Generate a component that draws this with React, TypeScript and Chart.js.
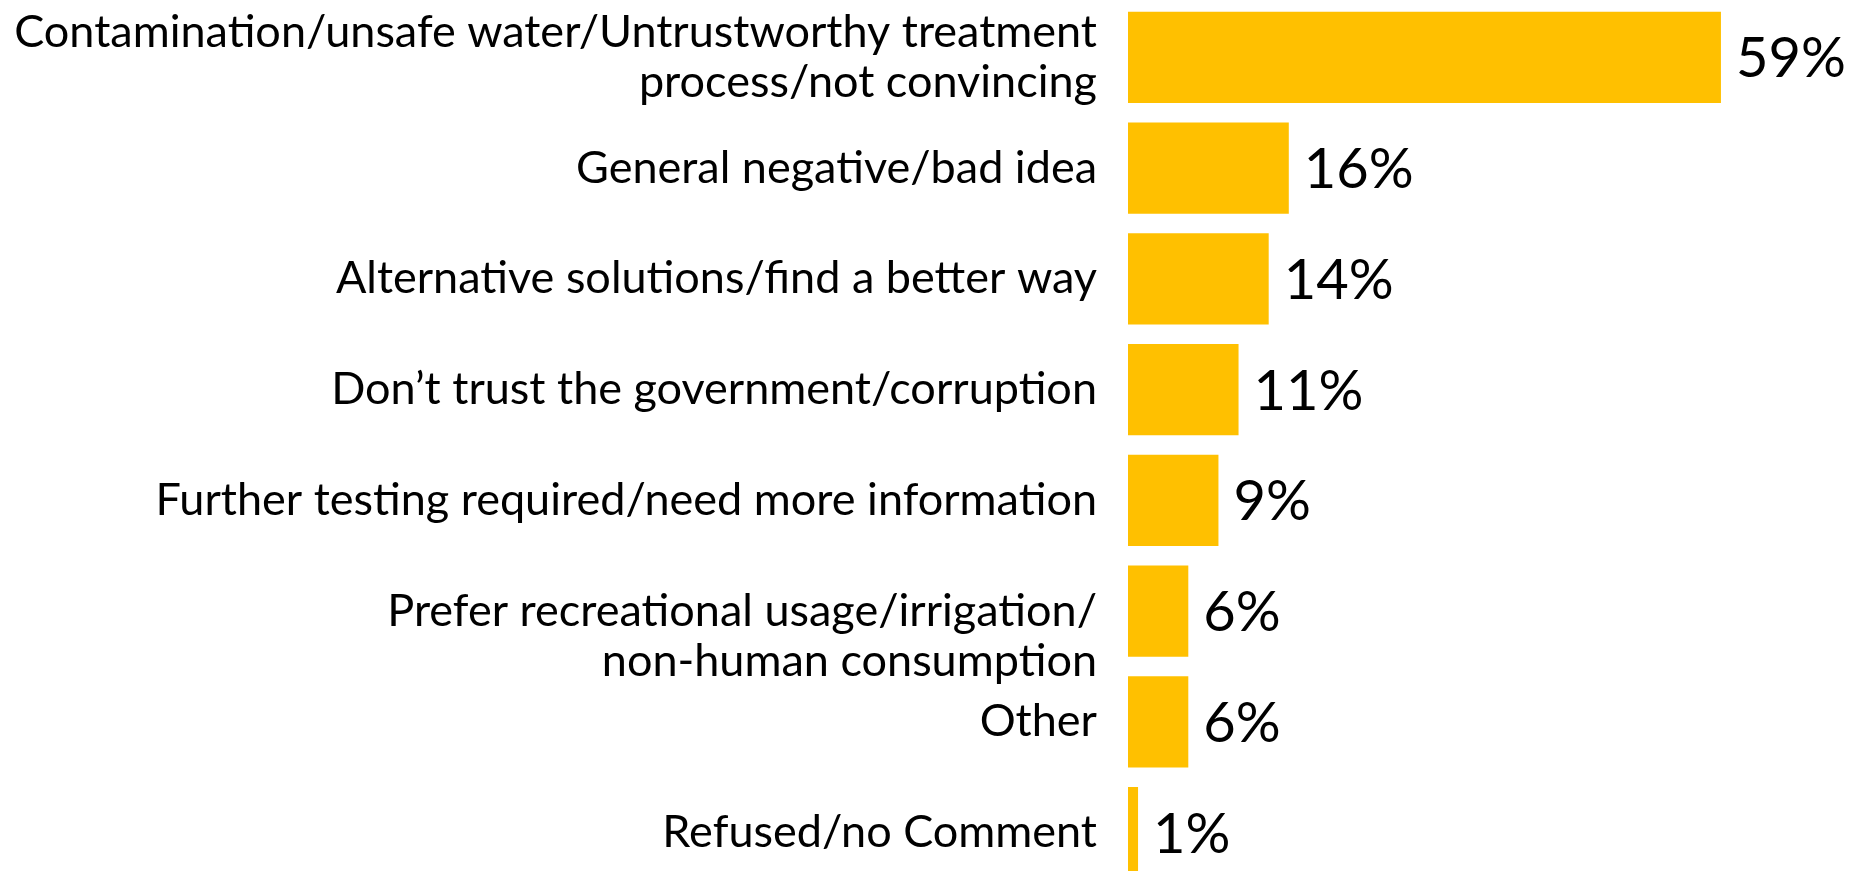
import React, { useEffect, useRef } from "react";
import { Chart, registerables } from "chart.js";

Chart.register(...registerables);

const categories: string[][] = [
  ["Contamination/unsafe water/Untrustworthy treatment", "process/not convincing"],
  ["General negative/bad idea"],
  ["Alternative solutions/find a better way"],
  ["Don\u2019t trust the government/corruption"],
  ["Further testing required/need more information"],
  ["Prefer recreational usage/irrigation/", "non-human consumption"],
  ["Other"],
  ["Refused/no Comment"],
];

const values: number[] = [59, 16, 14, 11, 9, 6, 6, 1];

const valueLabels: string[] = ["59%", "16%", "14%", "11%", "9%", "6%", "6%", "1%"];

const BAR_COLOR = "#FFC000";
const FONT = "Lato";

const valueLabelPlugin = {
  id: "valueLabels",
  afterDatasetsDraw(chart: any) {
    const ctx = chart.ctx;
    const meta = chart.getDatasetMeta(0);
    ctx.save();
    ctx.font = `56px ${FONT}`;
    ctx.fillStyle = "#000000";
    ctx.textAlign = "left";
    ctx.textBaseline = "middle";
    meta.data.forEach((bar: any, i: number) => {
      ctx.fillText(valueLabels[i], bar.x + 15, bar.y + 2);
    });
    ctx.restore();
  },
};

export default function App() {
  const canvasRef = useRef<HTMLCanvasElement | null>(null);

  useEffect(() => {
    let chart: Chart | null = null;
    let cancelled = false;
    const make = () => {
      if (cancelled || !canvasRef.current) return;
      chart = new Chart(canvasRef.current, {
        type: "bar",
        data: {
          labels: categories,
          datasets: [
            {
              data: values,
              backgroundColor: BAR_COLOR,
              borderWidth: 0,
              categoryPercentage: 1,
              barPercentage: 0.822,
            },
          ],
        },
        options: {
          indexAxis: "y",
          responsive: false,
          animation: false,
          devicePixelRatio: 1,
          layout: { padding: { left: 0, right: 28.5, top: 2, bottom: 0 } },
          plugins: {
            legend: { display: false },
            tooltip: { enabled: false },
            title: { display: false },
          },
          scales: {
            x: {
              display: false,
              min: 0,
              max: 70,
            },
            y: {
              grid: { display: false, drawTicks: false },
              border: { display: false },
              afterFit: (scale: any) => {
                scale.width = 1128;
                scale.paddingTop = 0;
                scale.paddingBottom = 0;
              },
              ticks: {
                color: "#000000",
                padding: 31,
                autoSkip: false,
                font: { family: FONT, size: 45, lineHeight: 1.12 },
                callback: (_v: any, i: number) =>
                  i === 5 ? ["", ...categories[i]] : categories[i],
              },
            },
          },
        },
        plugins: [valueLabelPlugin],
      });
    };
    const fonts: any = (document as any).fonts;
    if (fonts && fonts.load) {
      Promise.all([fonts.load(`45px ${FONT}`), fonts.load(`56px ${FONT}`)])
        .catch(() => null)
        .then(make);
    } else {
      make();
    }
    return () => {
      cancelled = true;
      if (chart) chart.destroy();
    };
  }, []);

  return (
    <div
      style={{
        position: "fixed",
        left: 0,
        top: 0,
        width: 1860,
        height: 871,
        overflow: "hidden",
        background: "#ffffff",
      }}
    >
      <canvas ref={canvasRef} width={1860} height={888} style={{ display: "block" }} />
    </div>
  );
}
